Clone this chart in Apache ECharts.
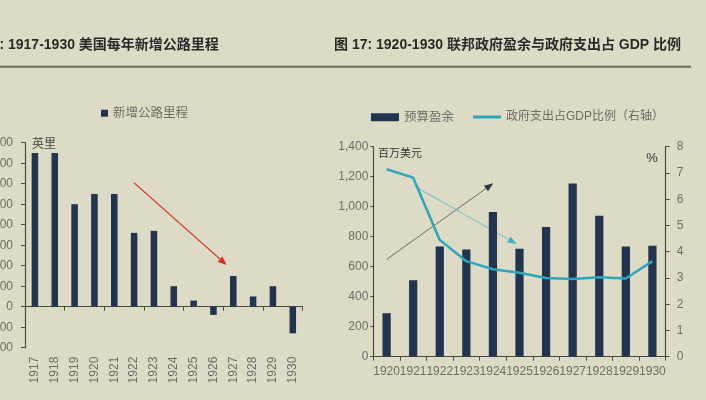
<!DOCTYPE html>
<html>
<head>
<meta charset="utf-8">
<script src="https://cdn.jsdelivr.net/npm/echarts@6/dist/echarts.min.js"></script>
<style>
html,body{margin:0;padding:0;background:#dddac5;}
#c{width:706px;height:400px;}
</style>
</head>
<body>
<div id="c"></div>
<script>
// ---- data ----
const roadYears = ['1917','1918','1919','1920','1921','1922','1923','1924','1925','1926','1927','1928','1929','1930'];
const roadMiles = [750,750,500,550,550,360,370,100,30,-40,150,50,100,-130];
const fedYears = ['1920','1921','1922','1923','1924','1925','1926','1927','1928','1929','1930'];
const surplus = [290,510,735,715,965,720,865,1155,940,735,740];
const spendShare = [7.14,6.82,4.45,3.64,3.33,3.2,3.0,2.96,3.03,2.98,3.64];

const FONT = '"Liberation Sans","Noto Sans CJK SC",Arial,sans-serif';
const BAR = '#213550';
const TEAL = '#2ca5bd';
const AXIS = '#4b4a3c';
const LBL = '#6e6d68';

function arrow(x1,y1,x2,y2,lineColor,headColor,len,w,lw){
  const a = Math.atan2(y2-y1,x2-x1);
  const bx = x2 - len*Math.cos(a), by = y2 - len*Math.sin(a);
  const px = -Math.sin(a)*w/2, py = Math.cos(a)*w/2;
  return [
    {type:'line',shape:{x1:x1,y1:y1,x2:bx,y2:by},style:{stroke:lineColor,lineWidth:lw||1}},
    {type:'polygon',shape:{points:[[x2,y2],[bx+px,by+py],[bx-px,by-py]]},style:{fill:headColor}}
  ];
}

const chart = echarts.init(document.getElementById('c'));
const option = {
  backgroundColor:'#dddac5',
  animation:false,
  textStyle:{fontFamily:FONT},
  legend:[
    {data:[{name:'新增公路里程',icon:'rect'}],left:101,top:107,padding:0,itemWidth:7,itemHeight:7,
     textStyle:{color:LBL,fontSize:12.5,fontFamily:FONT}},
    {data:[{name:'预算盈余',icon:'rect'}],left:371,top:111,padding:0,
     itemWidth:28,itemHeight:8,textStyle:{color:LBL,fontSize:12.5,fontFamily:FONT}},
    {data:[{name:'政府支出占GDP比例（右轴）',icon:'rect'}],left:473,top:111,padding:0,
     itemWidth:28,itemHeight:3,textStyle:{color:LBL,fontSize:12,fontFamily:FONT}}
  ],
  grid:[
    {left:25,top:142.7,width:277.7,height:205,outerBoundsMode:'none',containLabel:false},
    {left:373.3,top:146.7,width:292.4,height:210,outerBoundsMode:'none',containLabel:false}
  ],
  xAxis:[
    {type:'category',gridIndex:0,data:roadYears,axisLine:{onZero:true,lineStyle:{color:AXIS,width:1.2}},
     axisTick:{show:true,length:4,lineStyle:{color:AXIS}},axisLabel:{show:false}},
    {type:'category',gridIndex:0,data:roadYears,position:'bottom',axisLine:{show:false,onZero:false},axisTick:{show:false},
     axisLabel:{rotate:90,margin:9,interval:0,color:LBL,fontSize:12,fontFamily:FONT}},
    {type:'category',gridIndex:1,data:fedYears,axisLine:{lineStyle:{color:AXIS,width:1.2}},
     axisTick:{show:true,length:4,lineStyle:{color:AXIS}},
     axisLabel:{margin:9,interval:0,hideOverlap:false,color:LBL,fontSize:12,fontFamily:FONT}}
  ],
  yAxis:[
    {type:'value',gridIndex:0,min:-200,max:800,interval:100,splitLine:{show:false},
     axisLine:{show:true,lineStyle:{color:AXIS,width:1.2}},axisTick:{show:true,length:4,lineStyle:{color:AXIS}},
     axisLabel:{margin:12,color:LBL,fontSize:12,fontFamily:FONT}},
    {type:'value',gridIndex:1,min:0,max:1400,interval:200,splitLine:{show:false},
     axisLine:{show:true,lineStyle:{color:AXIS,width:1.2}},axisTick:{show:true,length:3,lineStyle:{color:AXIS}},
     axisLabel:{margin:5,color:LBL,fontSize:12,fontFamily:FONT,
       formatter:function(v){return v.toLocaleString('en-US');}}},
    {type:'value',gridIndex:1,position:'right',min:0,max:8,interval:1,splitLine:{show:false},
     axisLine:{show:true,lineStyle:{color:AXIS,width:1.2}},axisTick:{show:true,length:4,lineStyle:{color:AXIS}},
     axisLabel:{margin:11,color:LBL,fontSize:12,fontFamily:FONT}}
  ],
  series:[
    {name:'新增公路里程',type:'bar',xAxisIndex:0,yAxisIndex:0,data:roadMiles,barWidth:'33%',itemStyle:{color:BAR}},
    {name:'预算盈余',type:'bar',xAxisIndex:2,yAxisIndex:1,data:surplus,barWidth:'31%',itemStyle:{color:BAR}},
    {name:'政府支出占GDP比例（右轴）',type:'line',xAxisIndex:2,yAxisIndex:2,data:spendShare,symbol:'none',
     lineStyle:{color:TEAL,width:2.5},itemStyle:{color:TEAL},z:3}
  ],
  graphic:[].concat(
    [
      {type:'text',x:-34,y:45,style:{text:'图 16: 1917-1930 美国每年新增公路里程',fill:'#2a2a2a',
        font:'bold 14px '+FONT,textVerticalAlign:'middle'}},
      {type:'text',x:681,y:45,style:{text:'图 17: 1920-1930 联邦政府盈余与政府支出占 GDP 比例',fill:'#2a2a2a',
        font:'bold 14px '+FONT,textAlign:'right',textVerticalAlign:'middle'}},
      {type:'line',shape:{x1:0,y1:66.7,x2:691,y2:66.7},style:{stroke:'#6e6c5c',lineWidth:2}},
      {type:'text',x:44,y:145,style:{text:'英里',fill:'#444',font:'12px '+FONT,textAlign:'center',textVerticalAlign:'middle'}},
      {type:'text',x:400,y:154,style:{text:'百万美元',fill:'#333',font:'11px '+FONT,textAlign:'center',textVerticalAlign:'middle'}},
      {type:'text',x:652,y:158,style:{text:'%',fill:'#333',font:'13px '+FONT,textAlign:'center',textVerticalAlign:'middle'}}
    ],
    arrow(134,182.7,226.7,265,'#d8402c','#d8301c',9,7,1.2),
    arrow(386.7,259.3,493.3,183.3,'#6a6a66','#2d3545',9,7,1),
    arrow(418.3,188.3,516.7,244,'#6fc0cc','#3fb0c4',9,7,1)
  )
};
chart.setOption(option);
</script>
</body>
</html>
